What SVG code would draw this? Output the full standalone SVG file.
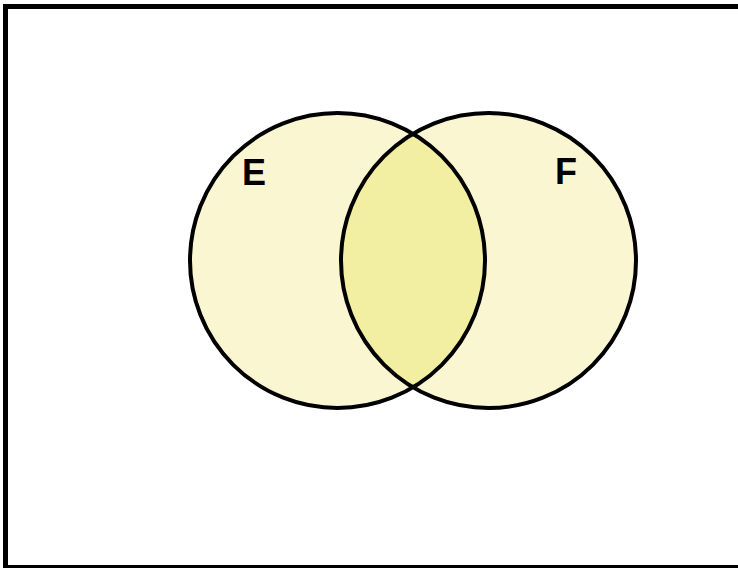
<svg xmlns="http://www.w3.org/2000/svg" width="738" height="568" viewBox="0 0 738 568">
<style>
.ring{fill:none;stroke:#000;stroke-width:4}
.lbl{font-family:"Liberation Sans",Arial,sans-serif;font-weight:bold;font-size:36px;fill:#000}
</style>
<defs>
<clipPath id="clipE"><circle cx="337.5" cy="260.5" r="147.5"/></clipPath>
</defs>
<rect x="0" y="0" width="738" height="568" fill="#fff"/>
<rect x="5.5" y="6.5" width="760" height="561" fill="none" stroke="#000" stroke-width="5"/>
<g id="E-fill"><circle cx="337.5" cy="260.5" r="147.5" fill="#fbf6d2"/></g>
<g id="F-fill"><circle cx="488.5" cy="260.5" r="147.5" fill="#fbf6d2"/></g>
<g id="EF"><circle cx="488.5" cy="260.5" r="147.5" fill="#f3efa2" clip-path="url(#clipE)"/></g>
<g id="E"><circle class="ring" cx="337.5" cy="260.5" r="147.5"/><text class="lbl" x="242" y="185">E</text></g>
<g id="F"><circle class="ring" cx="488.5" cy="260.5" r="147.5"/><text class="lbl" x="555" y="184">F</text></g>
</svg>
